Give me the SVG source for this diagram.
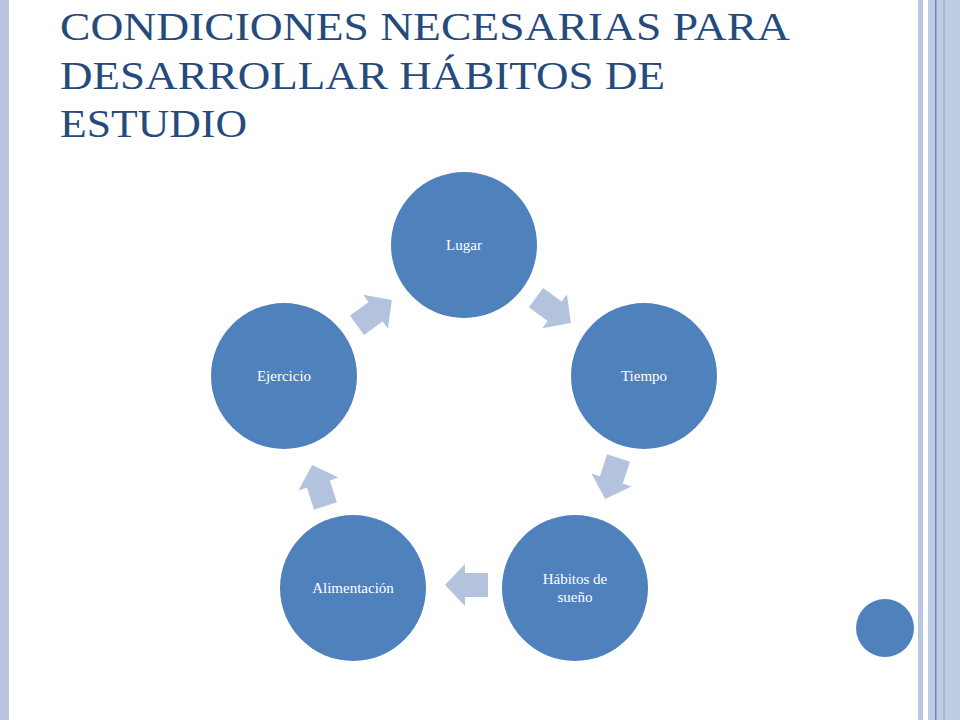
<svg xmlns="http://www.w3.org/2000/svg" width="960" height="720" viewBox="0 0 960 720">
<style>
.t{font-family:"Liberation Serif",serif;font-size:41px;fill:#254a7c}
.n{fill:#4f81bd}
.l{font-family:"Liberation Serif",serif;font-size:15px;fill:#fff;text-anchor:middle}
.a{fill:#b3c3de}
</style>
<defs><path id="arr" d="M-21,-12 L2,-12 L2,-21 L22,0 L2,21 L2,12 L-21,12 Z"/></defs>
<rect width="960" height="720" fill="#fff"/>
<rect x="0" y="0" width="9" height="720" fill="#b8c6e0"/>
<rect x="918" y="0" width="5" height="720" fill="#b8c6e0"/>
<rect x="928" y="0" width="32" height="720" fill="#c0cce4"/>
<rect x="935" y="0" width="1.5" height="720" fill="#6f86b3"/>
<rect x="943" y="0" width="2" height="720" fill="#a9b8d6"/>
<text class="t" x="60" y="40" textLength="730" lengthAdjust="spacingAndGlyphs">CONDICIONES  NECESARIAS  PARA</text>
<text class="t" x="60" y="89" textLength="605" lengthAdjust="spacingAndGlyphs">DESARROLLAR  HÁBITOS  DE</text>
<text class="t" x="60" y="137" textLength="187" lengthAdjust="spacingAndGlyphs">ESTUDIO</text>
<g id="connectors">
<use href="#arr" class="a" transform="translate(553,310) rotate(36)"/>
<use href="#arr" class="a" transform="translate(612,478) rotate(108)"/>
<use href="#arr" class="a" transform="translate(467,585) rotate(180)"/>
<use href="#arr" class="a" transform="translate(319,486) rotate(252)"/>
<use href="#arr" class="a" transform="translate(374,313) rotate(324)"/>
</g>
<g id="lugar"><circle class="n" cx="464" cy="245" r="73"/><text class="l" x="464" y="250">Lugar</text></g>
<g id="tiempo"><circle class="n" cx="644" cy="376" r="73"/><text class="l" x="644" y="381">Tiempo</text></g>
<g id="habitos"><circle class="n" cx="575" cy="588" r="73"/><text class="l" x="575" y="584">Hábitos de</text><text class="l" x="575" y="602">sueño</text></g>
<g id="alimentacion"><circle class="n" cx="353" cy="588" r="73"/><text class="l" x="353" y="593">Alimentación</text></g>
<g id="ejercicio"><circle class="n" cx="284" cy="376" r="73"/><text class="l" x="284" y="381">Ejercicio</text></g>
<circle class="n" cx="885" cy="628" r="29"/>
</svg>
